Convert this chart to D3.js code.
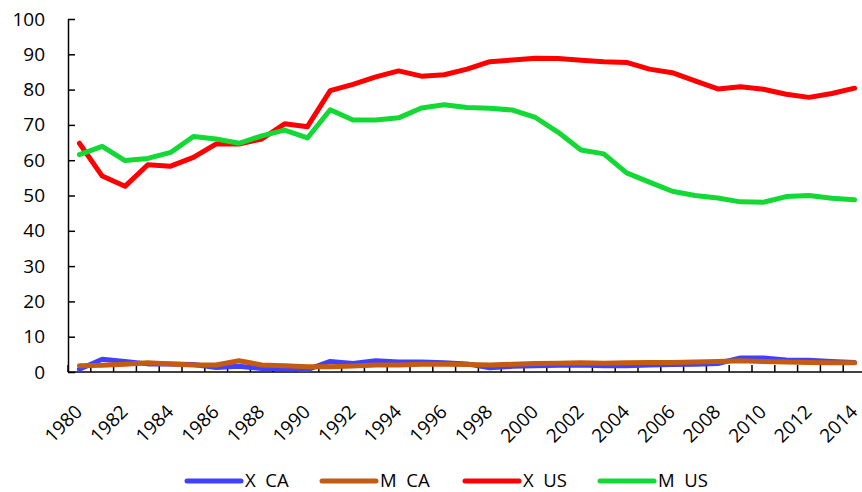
<!DOCTYPE html>
<html>
<head>
<meta charset="utf-8">
<script src="https://cdn.jsdelivr.net/npm/d3@7"></script>
<style>
  body { margin: 0; background: #fff; }
  svg { display: block; font-family: "Open Sans", Lato, sans-serif; }
</style>
</head>
<body>
<div id="chart"></div>
<script>
// data
const years = d3.range(1980, 2015).map(String);
const labelYears = years.filter(y => +y % 2 === 0);
const yTicks = [0, 10, 20, 30, 40, 50, 60, 70, 80, 90, 100];

const xCA = [0.8, 3.6, 3.0, 2.3, 2.3, 2.1, 1.3, 1.6, 1.0, 1.0, 0.7, 3.0, 2.4, 3.2, 2.8, 2.8,
    2.6, 2.3, 1.2, 1.6, 1.8, 1.9, 2.0, 1.8, 1.8, 2.0, 2.1, 2.2, 2.4, 4.0, 4.0, 3.4, 3.3, 3.0, 2.7];
const mCA = [1.8, 1.9, 2.2, 2.6, 2.3, 2.0, 2.0, 3.2, 2.0, 1.8, 1.5, 1.5, 1.7, 2.0, 2.0, 2.2,
    2.2, 2.1, 2.0, 2.2, 2.4, 2.5, 2.6, 2.5, 2.6, 2.7, 2.7, 2.8, 3.0, 3.2, 3.0, 2.8, 2.7, 2.6, 2.6];
const xUS = [64.8, 55.5, 52.6, 58.7, 58.3, 60.8, 64.6, 64.6, 66.0, 70.3, 69.5, 79.7, 81.5, 83.6, 85.3, 83.8,
    84.2, 85.8, 87.9, 88.4, 88.9, 88.8, 88.3, 87.9, 87.7, 85.8, 84.8, 82.5, 80.2, 80.8, 80.1, 78.7, 77.8, 78.9, 80.4];
const mUS = [61.6, 63.9, 59.9, 60.5, 62.2, 66.7, 66.0, 64.8, 66.9, 68.5, 66.3, 74.3, 71.4, 71.4, 72.0, 74.8,
    75.7, 74.9, 74.7, 74.2, 72.1, 67.9, 62.9, 61.8, 56.4, 53.8, 51.2, 50.0, 49.3, 48.2, 48.1, 49.7, 50.0, 49.2, 48.8];

const seriesNames = ['X\u00a0\u00a0CA', 'M\u00a0\u00a0CA', 'X\u00a0\u00a0US', 'M\u00a0\u00a0US'];
const seriesColors = ['#4040ff', '#c55a11', '#ff0000', '#12d934'];
const seriesValues = [xCA, mCA, xUS, mUS];

const width = 862;
const height = 492;

const svg = d3.select('#chart')
    .append('svg')
    .attr('width', width)
    .attr('height', height);

const x = d3.scaleBand()
    .domain(years)
    .range([68, 866])
    .padding(0);

const y = d3.scaleLinear()
    .domain([0, 100])
    .range([372, 19]);

// y axis, ticks pointing inside
const yAxis = svg.append('g')
    .attr('transform', 'translate(68,0)')
    .call(d3.axisLeft(y).tickValues(yTicks).tickSizeInner(-7).tickSizeOuter(0).tickPadding(23));
yAxis.select('.domain').attr('stroke', '#000').attr('stroke-width', 1.5);
yAxis.selectAll('.tick line').attr('stroke', '#000').attr('stroke-width', 1.5);
yAxis.selectAll('.tick text')
    .attr('fill', '#000')
    .style('font-size', '19px')
    .style('font-family', '"Open Sans", Lato, sans-serif');

// x axis line + boundary ticks
const xAxis = svg.append('g').attr('class', 'x-axis');
xAxis.append('line')
    .attr('x1', x.range()[0])
    .attr('x2', x.range()[1])
    .attr('y1', y(0))
    .attr('y2', y(0))
    .attr('stroke', '#000')
    .attr('stroke-width', 1.5);

const boundaries = years.map(d => x(d)).concat([x.range()[1]]);
xAxis.selectAll('.bound')
    .data(boundaries)
    .enter()
    .append('line')
    .attr('class', 'bound')
    .attr('x1', d => d)
    .attr('x2', d => d)
    .attr('y1', y(0))
    .attr('y2', y(0) - 7)
    .attr('stroke', '#000')
    .attr('stroke-width', 1.5);

xAxis.selectAll('.xlabel')
    .data(labelYears)
    .enter()
    .append('text')
    .attr('class', 'xlabel')
    .attr('text-anchor', 'end')
    .attr('transform', d => 'translate(' + (x(d) + x.bandwidth() / 2 + 4) + ',413) rotate(-45)')
    .attr('fill', '#000')
    .style('font-size', '19px')
    .text(d => d);

// lines
const lineGen = d3.line()
    .x((d, i) => x(years[i]) + x.bandwidth() / 2)
    .y(d => y(d));

seriesValues.forEach((vals, k) => {
    svg.append('path')
        .attr('d', lineGen(vals))
        .attr('fill', 'none')
        .attr('stroke', seriesColors[k])
        .attr('stroke-width', 5)
        .attr('stroke-linejoin', 'round')
        .attr('stroke-linecap', 'round');
});

// legend
const legendX = [187, 322, 465, 600];
const legend = svg.append('g').attr('class', 'legend');
seriesNames.forEach((name, k) => {
    const g = legend.append('g').attr('transform', 'translate(' + legendX[k] + ',481)');
    g.append('line')
        .attr('x1', 0)
        .attr('x2', 54)
        .attr('stroke', seriesColors[k])
        .attr('stroke-width', 5)
        .attr('stroke-linecap', 'round');
    g.append('text')
        .attr('x', 58)
        .attr('y', 6)
        .attr('fill', '#000')
        .style('font-size', '18.5px')
        .text(name);
});
</script>
</body>
</html>
